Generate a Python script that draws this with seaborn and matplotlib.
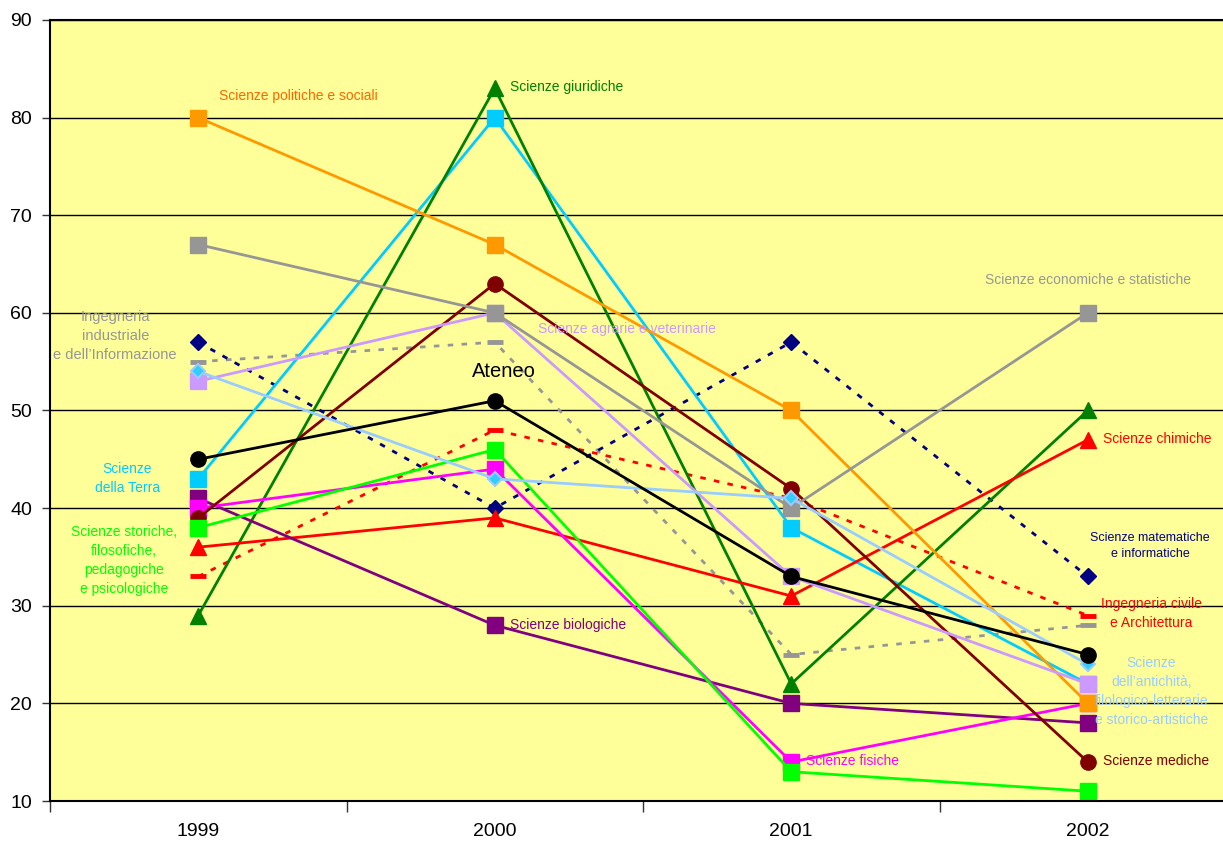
import matplotlib

matplotlib.use("Agg")
import matplotlib.pyplot as plt
import seaborn as sns

# ── data ──────────────────────────────────────────────────────────────────────
years = [1999, 2000, 2001, 2002]

ing_industriale = [55, 57, 25, 28]
ing_civile = [33, 48, 41, 29]
matematiche = [57, 40, 57, 33]
politiche = [80, 67, 50, 20]
economiche = [67, 60, 40, 60]
agrarie = [53, 60, 33, 22]
terra = [43, 80, 38, 22]
giuridiche = [29, 83, 22, 50]
mediche = [39, 63, 42, 14]
chimiche = [36, 39, 31, 47]
fisiche = [40, 44, 14, 20]
storiche = [38, 46, 13, 11]
biologiche = [41, 28, 20, 18]
antichita = [54, 43, 41, 24]
ateneo = [45, 51, 33, 25]

y_ticks = [10, 20, 30, 40, 50, 60, 70, 80, 90]

# (values, colour, marker, linestyle, marker face, marker size, edge width)
# drawing order follows which markers sit on top in the original
series = [
    (ing_industriale, "#969696", "_", (0, (2, 3)), "#969696", 11.5, 3.5),
    (ing_civile, "#FF0000", "_", (0, (2, 3)), "#FF0000", 11.5, 3.5),
    (matematiche, "#000080", "D", (0, (2, 3)), "#000080", 8, 1),
    (terra, "#00CCFF", "s", "-", "#00CCFF", 11, 1),
    (giuridiche, "#008000", "^", "-", "#008000", 11.5, 1),
    (chimiche, "#FF0000", "^", "-", "#FF0000", 11.5, 1),
    (biologiche, "#800080", "s", "-", "#800080", 11, 1),
    (fisiche, "#FF00FF", "s", "-", "#FF00FF", 11, 1),
    (mediche, "#800000", "o", "-", "#800000", 11, 1),
    (storiche, "#00FF00", "s", "-", "#00FF00", 11, 1),
    (politiche, "#FF9900", "s", "-", "#FF9900", 11, 1),
    (agrarie, "#CC99FF", "s", "-", "#CC99FF", 11, 1),
    (economiche, "#969696", "s", "-", "#969696", 11, 1),
    (antichita, "#99CCFF", "D", "-", "#33CCFF", 7.5, 1.5),
    (ateneo, "#000000", "o", "-", "#000000", 11, 1),
]

# (text, x, y, colour, horizontal alignment, font size)
labels = [
    ("Scienze politiche e sociali", 1999.07, 82.2, "#FF6600", "left", 10),
    ("Scienze giuridiche", 2000.05, 83.1, "#008000", "left", 10),
    ("Scienze economiche e statistiche", 2002.0, 63.4, "#969696", "center", 10),
    ("Scienze agrarie e veterinarie", 2000.145, 58.3, "#CC99FF", "left", 10),
    ("Ingegneria\nindustriale\ne dell\u2019Informazione", 1998.72, 57.6, "#969696", "center", 10.5),
    ("Ateneo", 2000.03, 54.0, "#000000", "center", 14.5),
    ("Scienze\ndella Terra", 1998.76, 43.0, "#00CCFF", "center", 10),
    ("Scienze storiche,\nfilosofiche,\npedagogiche\ne psicologiche", 1998.75, 34.6, "#00FF00", "center", 10),
    ("Scienze chimiche", 2002.05, 47.1, "#FF0000", "left", 10),
    ("Scienze matematiche\ne informatiche", 2002.21, 36.1, "#000080", "center", 9),
    ("Ingegneria civile\ne Architettura", 2002.215, 29.2, "#FF0000", "center", 10),
    ("Scienze\ndell\u2019antichit\u00e0,\nfilologico-letterarie\ne storico-artistiche", 2002.215, 21.2, "#99CCFF", "center", 10),
    ("Scienze mediche", 2002.05, 14.1, "#800000", "left", 10),
    ("Scienze biologiche", 2000.05, 28.0, "#800080", "left", 10),
    ("Scienze fisiche", 2001.05, 14.1, "#FF00FF", "left", 10),
]

# ── figure ────────────────────────────────────────────────────────────────────
sns.set_theme(style="white")
plt.rcParams["font.family"] = ["Liberation Sans", "DejaVu Sans"]

fig = plt.figure(figsize=(12.23, 8.42), dpi=100)
ax = fig.add_axes([50 / 1223, 41 / 842, 1186 / 1223, 781 / 842])
ax.set_facecolor("#FFFF99")

for vals, color, marker, ls, face, ms, mew in series:
    sns.lineplot(
        x=years, y=vals, ax=ax, color=color, linestyle=ls, linewidth=2,
        marker=marker, markersize=ms, markerfacecolor=face,
        markeredgecolor=color, markeredgewidth=mew, sort=False, legend=False,
    )

for text, x, y, color, ha, size in labels:
    ax.text(x, y, text, color=color, ha=ha, va="center", fontsize=size,
            linespacing=1.45)

ax.set_xlim(1998.5, 2002.5)
ax.set_ylim(10, 90)
ax.set_yticks(y_ticks)
ax.set_xticks(years)
ax.set_xticks([1998.5, 1999.5, 2000.5, 2001.5], minor=True)
ax.set_xticklabels([str(y) for y in years])
ax.tick_params(axis="y", which="major", direction="out", length=6, width=1,
               color="#333333", labelsize=14, labelcolor="#000000", pad=7,
               left=True)
ax.tick_params(axis="x", which="major", length=0, labelsize=14,
               labelcolor="#000000", pad=16)
ax.tick_params(axis="x", which="minor", direction="out", length=8, width=1,
               color="#333333", bottom=True)
ax.yaxis.grid(True, color="#000000", linewidth=1)
ax.set_axisbelow(True)
ax.set_xlabel("")
ax.set_ylabel("")
for side in ["left", "bottom", "top"]:
    ax.spines[side].set_color("#000000")
    ax.spines[side].set_linewidth(1.5)
ax.spines["right"].set_visible(False)

fig.savefig("out.png", dpi=100)
plt.close(fig)
